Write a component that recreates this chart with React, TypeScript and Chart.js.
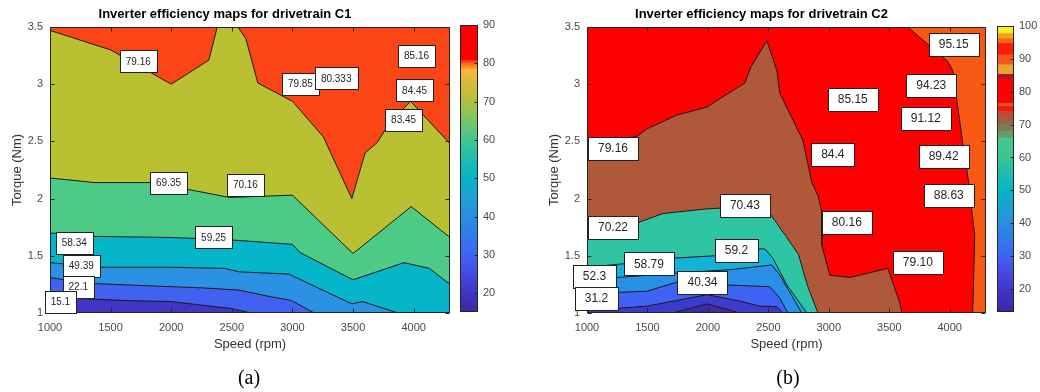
import React, { useEffect, useRef } from 'react';
import { Chart, registerables } from 'chart.js';

Chart.register(...registerables);

type Pt = [number, number];
type Lbl = [string, number, number];
type Stop = [number, string];
type Band = [number, number, string];

const FONT = "'Liberation Sans', Arial, Helvetica, sans-serif";

// ---------- axes ----------
const X_MIN = 1000;
const X_MAX = 4300;
const Y_MIN = 1;
const Y_MAX = 3.5;
const xTicks = [1000, 1500, 2000, 2500, 3000, 3500, 4000];
const yTicks = [1, 1.5, 2, 2.5, 3, 3.5];
const cb1Ticks = [20, 30, 40, 50, 60, 70, 80, 90];
const cb2Ticks = [20, 30, 40, 50, 60, 70, 80, 90, 100];

// ---------- drivetrain C1 contour lines (speed rpm, torque Nm) ----------
const c1Line15: Pt[] = [[1000, 1.16], [1190, 1.13], [1600, 1.11], [2000, 1.1], [2490, 1.04], [2660, 1.0]];
const c1Line22: Pt[] = [[1000, 1.31], [1300, 1.26], [2000, 1.23], [2250, 1.22], [2560, 1.2], [2830, 1.14], [2990, 1.11], [3180, 1.0]];
const c1Line49: Pt[] = [[1000, 1.44], [1430, 1.4], [2000, 1.4], [2440, 1.39], [2560, 1.36], [2970, 1.34], [3490, 1.08], [3580, 1.1], [3870, 1.0]];
const c1Line58: Pt[] = [[1000, 1.7], [1350, 1.67], [2000, 1.66], [2480, 1.64], [3000, 1.6], [3060, 1.53], [3500, 1.29], [3920, 1.44], [4130, 1.39], [4300, 1.25]];
const c1Line69: Pt[] = [[1000, 2.18], [1370, 2.14], [1850, 2.14], [2480, 2.01], [3000, 2.03], [3500, 1.52], [3980, 1.93], [4300, 1.66]];
const c1Line79: Pt[] = [[1000, 3.47], [1500, 3.3], [2000, 3.0], [2310, 3.21], [2380, 3.5], [2550, 3.5], [2615, 3.4], [2715, 3.01], [3000, 2.85], [3255, 2.54], [3490, 2.0], [3600, 2.4], [3700, 2.49], [3800, 2.66], [3975, 2.85], [4300, 2.48]];

const c1Labels: Lbl[] = [
  ['79.16', 1728, 3.2], ['79.85', 3066, 3.0], ['80.333', 3361, 3.05], ['85.16', 4024, 3.25],
  ['84.45', 4008, 2.945], ['83.45', 3917, 2.69], ['69.35', 1978, 2.14], ['70.16', 2612, 2.12],
  ['58.34', 1200, 1.61], ['59.25', 2350, 1.66], ['49.39', 1258, 1.41], ['22.1', 1233, 1.227], ['15.1', 1086, 1.1],
];

// ---------- drivetrain C2 contour lines ----------
const c2Line95: Pt[] = [[3653, 3.5], [3983, 3.2], [4025, 3.12], [4107, 2.49], [4157, 2.14], [4182, 1.9], [4207, 1.68], [4190, 1.0]];
const c2Line79: Pt[] = [[1000, 2.42], [1421, 2.55], [1496, 2.61], [1744, 2.73], [1992, 2.8], [2124, 2.89], [2306, 3.01], [2355, 3.15], [2488, 3.38], [2570, 3.12], [2595, 2.92], [2785, 2.51], [2860, 2.14], [2909, 2.03], [2942, 1.88], [2942, 1.59], [3008, 1.33], [3174, 1.31], [3488, 1.39], [3587, 1.09], [3603, 1.0]];
const c2Line70: Pt[] = [[1000, 1.7], [1421, 1.79], [1628, 1.87], [1992, 1.91], [2300, 1.93], [2512, 1.87], [2640, 1.68], [2750, 1.51], [2820, 1.25], [2910, 1.0]];
const c2Line59: Pt[] = [[1000, 1.4], [1400, 1.44], [1719, 1.48], [2058, 1.5], [2405, 1.56], [2471, 1.56], [2537, 1.48], [2653, 1.245], [2818, 1.0]];
const c2Line52: Pt[] = [[1000, 1.3], [1248, 1.31], [1752, 1.35], [2200, 1.38], [2529, 1.42], [2595, 1.33], [2705, 1.13], [2777, 1.0]];
const c2Line40: Pt[] = [[1000, 1.17], [1248, 1.18], [1496, 1.19], [1744, 1.27], [2157, 1.245], [2512, 1.23], [2595, 1.13], [2661, 1.0]];
const c2Line31: Pt[] = [[1000, 1.02], [1496, 1.06], [1992, 1.16], [2240, 1.11], [2430, 1.06], [2570, 1.055], [2620, 1.0]];
const c2Line20: Pt[] = [[1711, 1.0], [1992, 1.08], [2264, 1.0]];

const c2Labels: Lbl[] = [
  ['95.15', 4033, 3.35], ['94.23', 3847, 2.99], ['85.15', 3198, 2.87], ['91.12', 3802, 2.7],
  ['79.16', 1215, 2.44], ['84.4', 3033, 2.385], ['89.42', 3950, 2.37], ['88.63', 3992, 2.03],
  ['70.43', 2306, 1.944], ['70.22', 1215, 1.75], ['80.16', 3149, 1.79], ['79.10', 3736, 1.44],
  ['59.2', 2236, 1.55], ['58.79', 1512, 1.43], ['52.3', 1062, 1.32], ['40.34', 1955, 1.267], ['31.2', 1079, 1.127],
];

// ---------- colormaps (styling) ----------
const C1 = {
  indigo: '#4035c4', blue: '#4162f0', lightBlue: '#2b91e2', cyan: '#05b6cb',
  green: '#4cca86', olive: '#b9c132', red: '#fb4517',
};
const C2 = {
  dark: '#3f2aa8', indigo: '#3c3bcb', blue: '#3e63f4', lightBlue: '#2a8fe6', cyan: '#13b3d8',
  teal: '#2fc4a4', brown: '#b0583a', red: '#ff0000', orange: '#f75814',
};
const cb1Stops: Stop[] = [
  [15.1, '#3d26a6'], [20, '#4034c6'], [25, '#4649e4'], [30, '#3e64f3'], [35, '#317ae8'], [40, '#2a8ee0'],
  [45, '#1ca2d6'], [50, '#07b4c6'], [55, '#1cbdb0'], [60, '#42c58e'], [65, '#79c56a'], [70, '#b0c03e'],
  [75, '#dcb93b'], [78.5, '#f8b83c'],
];
const cb1Bands: Band[] = [[78.5, 79.3, '#fd902c'], [79.3, 80, '#fe6a22'], [80, 80.7, '#fb4517'], [80.7, 90, '#ff0000']];
const cb2Stops: Stop[] = [
  [13, '#3d26a6'], [20, '#4036c8'], [25, '#4649e4'], [30, '#3e64f3'], [40, '#2a8ee0'], [50, '#07b4c6'],
  [60, '#3cc492'], [66, '#46c88a'],
];
const cb2Bands: Band[] = [
  [66, 68, '#6a9a68'], [68, 70, '#7c7c58'], [70, 72, '#98624a'], [72, 74, '#c04a36'], [74, 75.5, '#f01810'],
  [75.5, 76.5, '#e4521e'], [76.5, 84, '#ff0000'], [84, 85.3, '#a31a35'], [85.3, 88.2, '#eca030'],
  [88.2, 91.2, '#f45a1e'], [91.2, 94.7, '#ff1a0a'], [94.7, 96.2, '#f66a1c'], [96.2, 97.7, '#f5a020'], [97.7, 100, '#f8f020'],
];

// ---------- polygon helpers ----------
const domain: Pt[] = [[X_MIN, Y_MIN], [X_MAX, Y_MIN], [X_MAX, Y_MAX], [X_MIN, Y_MAX]];
const above = (l: Pt[]): Pt[] => {
  const last = l[l.length - 1];
  const corner: Pt[] = last[0] < X_MAX ? [[X_MAX, Y_MIN]] : [];
  return [...l, ...corner, [X_MAX, Y_MAX], [X_MIN, Y_MAX]];
};
const below = (l: Pt[]): Pt[] => [...l, [X_MIN, Y_MIN]];
const rightOf = (l: Pt[]): Pt[] => [...l, [X_MAX, Y_MIN], [X_MAX, Y_MAX]];

const c1Regions = [
  { pts: domain, color: C1.indigo },
  { pts: above(c1Line15), color: C1.blue },
  { pts: above(c1Line22), color: C1.lightBlue },
  { pts: above(c1Line49), color: C1.cyan },
  { pts: above(c1Line58), color: C1.green },
  { pts: above(c1Line69), color: C1.olive },
  { pts: above(c1Line79), color: C1.red },
];
const c1Lines = [c1Line15, c1Line22, c1Line49, c1Line58, c1Line69, c1Line79];

const c2Regions = [
  { pts: domain, color: C2.red },
  { pts: rightOf(c2Line95), color: C2.orange },
  { pts: below(c2Line79), color: C2.brown },
  { pts: below(c2Line70), color: C2.teal },
  { pts: below(c2Line59), color: C2.cyan },
  { pts: below(c2Line52), color: C2.lightBlue },
  { pts: below(c2Line40), color: C2.blue },
  { pts: below(c2Line31), color: C2.indigo },
  { pts: c2Line20, color: C2.dark },
];
const c2Lines = [c2Line95, c2Line79, c2Line70, c2Line59, c2Line52, c2Line40, c2Line31, c2Line20];

const toXY = (l: Pt[]) => l.map(([x, y]) => ({ x, y }));

function contourConfig(
  title: string,
  regions: { pts: Pt[]; color: string }[],
  lines: Pt[][],
  labels: Lbl[],
  lblFont: number,
  lblPadX: number,
  lblH: number,
): any {
  const n = regions.length;
  const datasets: any[] = regions.map((r, i) => ({
    data: toXY(r.pts),
    fill: 'shape',
    backgroundColor: r.color,
    borderWidth: 0,
    pointRadius: 0,
    order: n - i,
  }));
  lines.forEach((l) =>
    datasets.push({ data: toXY(l), fill: false, borderColor: '#1a1a1a', borderWidth: 1, pointRadius: 0, order: 0 }),
  );

  const boxPlugin = {
    id: 'axesBox',
    afterDatasetsDraw(chart: any) {
      const { ctx, chartArea: a, scales } = chart;
      ctx.save();
      ctx.strokeStyle = '#262626';
      ctx.lineWidth = 1;
      const L = Math.round(a.left) + 0.5;
      const R = Math.round(a.right) - 0.5;
      const T = Math.round(a.top) + 0.5;
      const B = Math.round(a.bottom) - 0.5;
      ctx.strokeRect(L, T, R - L, B - T);
      ctx.beginPath();
      xTicks.forEach((v) => {
        const px = Math.round(scales.x.getPixelForValue(v)) + 0.5;
        ctx.moveTo(px, B); ctx.lineTo(px, B - 4);
        ctx.moveTo(px, T); ctx.lineTo(px, T + 4);
      });
      yTicks.forEach((v) => {
        const py = Math.round(scales.y.getPixelForValue(v)) + 0.5;
        ctx.moveTo(L, py); ctx.lineTo(L + 4, py);
        ctx.moveTo(R, py); ctx.lineTo(R - 4, py);
      });
      ctx.stroke();
      ctx.restore();
    },
  };

  const labelPlugin = {
    id: 'contourLabels',
    afterDraw(chart: any) {
      const { ctx, scales } = chart;
      ctx.save();
      ctx.font = `${lblFont}px ${FONT}`;
      ctx.textAlign = 'center';
      ctx.textBaseline = 'middle';
      labels.forEach(([t, x, y]) => {
        const cx = scales.x.getPixelForValue(x);
        const cy = scales.y.getPixelForValue(y);
        const w = Math.round(ctx.measureText(t).width + 2 * lblPadX);
        const x0 = Math.round(cx - w / 2) + 0.5;
        const y0 = Math.round(cy - lblH / 2) + 0.5;
        ctx.fillStyle = '#ffffff';
        ctx.fillRect(x0, y0, w, lblH);
        ctx.strokeStyle = '#222222';
        ctx.lineWidth = 1;
        ctx.strokeRect(x0, y0, w, lblH);
        ctx.fillStyle = '#262626';
        ctx.fillText(t, cx, cy + 0.5);
      });
      ctx.restore();
    },
  };

  return {
    type: 'line',
    data: { datasets },
    options: {
      responsive: false,
      animation: false,
      events: [],
      layout: { padding: { left: 0, right: 50, top: 0, bottom: 37 } },
      elements: { line: { tension: 0 }, point: { radius: 0 } },
      plugins: {
        legend: { display: false },
        tooltip: { enabled: false },
        title: {
          display: true,
          text: title,
          color: '#000',
          font: { family: FONT, size: 13, weight: 'bold', lineHeight: 1.2 },
          padding: { top: 6.7, bottom: 4.7 },
        },
      },
      scales: {
        x: {
          type: 'linear',
          min: X_MIN,
          max: X_MAX,
          afterBuildTicks: (s: any) => { s.ticks = xTicks.map((v) => ({ value: v })); },
          afterFit: (s: any) => { s.height = 42; },
          grid: { display: false, drawTicks: false },
          border: { display: false },
          ticks: { padding: 8, color: '#4a4a4a', font: { family: FONT, size: 11 }, maxRotation: 0, autoSkip: false, callback: (v: any) => String(v) },
          title: { display: true, text: 'Speed (rpm)', color: '#333', font: { family: FONT, size: 13 }, padding: { top: 0, bottom: 3.2 } },
        },
        y: {
          type: 'linear',
          min: Y_MIN,
          max: Y_MAX,
          afterBuildTicks: (s: any) => { s.ticks = yTicks.map((v) => ({ value: v })); },
          afterFit: (s: any) => { s.width = 50; },
          grid: { display: false, drawTicks: false },
          border: { display: false },
          ticks: { padding: 7, color: '#4a4a4a', font: { family: FONT, size: 11 }, autoSkip: false, callback: (v: any) => String(v) },
          title: { display: true, text: 'Torque (Nm)', color: '#333', font: { family: FONT, size: 13 }, padding: { top: 9.2, bottom: 0 } },
        },
      },
    },
    plugins: [boxPlugin, labelPlugin],
  };
}

function colorbarConfig(min: number, max: number, ticks: number[], stops: Stop[], bands: Band[], axisW: number, padTop: number): any {
  const gLo = stops[0][0];
  const gHi = stops[stops.length - 1][0];
  const common = { grouped: false, borderWidth: 0, barPercentage: 1, categoryPercentage: 1 };
  const datasets: any[] = [
    {
      ...common,
      data: [[gLo, gHi]],
      backgroundColor: (c: any) => {
        const ch = c.chart;
        const ys = ch.scales && ch.scales.y;
        if (!ch.chartArea || !ys) return stops[0][1];
        const g = ch.ctx.createLinearGradient(0, ys.getPixelForValue(gLo), 0, ys.getPixelForValue(gHi));
        stops.forEach(([v, col]) => g.addColorStop((v - gLo) / (gHi - gLo), col));
        return g;
      },
    },
    ...bands.map(([lo, hi, col]) => ({ ...common, data: [[lo, hi]], backgroundColor: col })),
  ];
  const framePlugin = {
    id: 'cbFrame',
    afterDatasetsDraw(chart: any) {
      const { ctx, chartArea: a, scales } = chart;
      ctx.save();
      ctx.strokeStyle = '#262626';
      ctx.lineWidth = 1;
      const L = Math.round(a.left) + 0.5;
      const R = Math.round(a.right) - 0.5;
      const T = Math.round(a.top) + 0.5;
      const B = Math.round(a.bottom) - 0.5;
      ctx.strokeRect(L, T, R - L, B - T);
      ctx.beginPath();
      ticks.forEach((v) => {
        const py = Math.round(scales.y.getPixelForValue(v)) + 0.5;
        ctx.moveTo(R, py); ctx.lineTo(R - 3, py);
      });
      ctx.stroke();
      ctx.restore();
    },
  };
  return {
    type: 'bar',
    data: { labels: [''], datasets },
    options: {
      responsive: false,
      animation: false,
      events: [],
      layout: { padding: { left: 5, right: 0, top: padTop, bottom: 80 } },
      plugins: { legend: { display: false }, tooltip: { enabled: false }, title: { display: false } },
      scales: {
        x: { type: 'category', display: false },
        y: {
          type: 'linear',
          position: 'right',
          min,
          max,
          afterBuildTicks: (s: any) => { s.ticks = ticks.map((v) => ({ value: v })); },
          afterFit: (s: any) => { s.width = axisW; },
          grid: { display: false, drawTicks: false },
          border: { display: false },
          ticks: { padding: 5, color: '#4a4a4a', font: { family: FONT, size: 11 }, autoSkip: false, callback: (v: any) => String(v) },
        },
      },
    },
    plugins: [framePlugin],
  };
}

function ChartCanvas({ make, left, width }: { make: () => any; left: number; width: number }) {
  const ref = useRef<HTMLCanvasElement>(null);
  useEffect(() => {
    const chart = new Chart(ref.current as HTMLCanvasElement, make());
    return () => chart.destroy();
  }, []);
  return (
    <canvas
      ref={ref}
      width={width}
      height={392}
      style={{ position: 'absolute', left, top: 0, width, height: 392 }}
    />
  );
}

const captionStyle = (center: number): React.CSSProperties => ({
  position: 'absolute',
  left: center - 40,
  width: 80,
  top: 365,
  lineHeight: '24px',
  textAlign: 'center',
  fontFamily: "'Liberation Serif', 'Times New Roman', serif",
  fontSize: 20,
  color: '#000',
});

export default function App() {
  return (
    <div style={{ position: 'absolute', left: 0, top: 0, width: 1040, height: 392, overflow: 'hidden', background: '#fff' }}>
      <ChartCanvas
        left={0}
        width={500}
        make={() => contourConfig('Inverter efficiency maps for drivetrain C1', c1Regions, c1Lines, c1Labels, 10, 6, 22)}
      />
      <ChartCanvas left={455} width={50} make={() => colorbarConfig(15.1, 90, cb1Ticks, cb1Stops, cb1Bands, 27, 25)} />
      <ChartCanvas
        left={537}
        width={499}
        make={() => contourConfig('Inverter efficiency maps for drivetrain C2', c2Regions, c2Lines, c2Labels, 12, 10, 23)}
      />
      <ChartCanvas left={992} width={48} make={() => colorbarConfig(13, 100, cb2Ticks, cb2Stops, cb2Bands, 26, 26)} />
      <div style={captionStyle(249)}>(a)</div>
      <div style={captionStyle(788)}>(b)</div>
    </div>
  );
}
